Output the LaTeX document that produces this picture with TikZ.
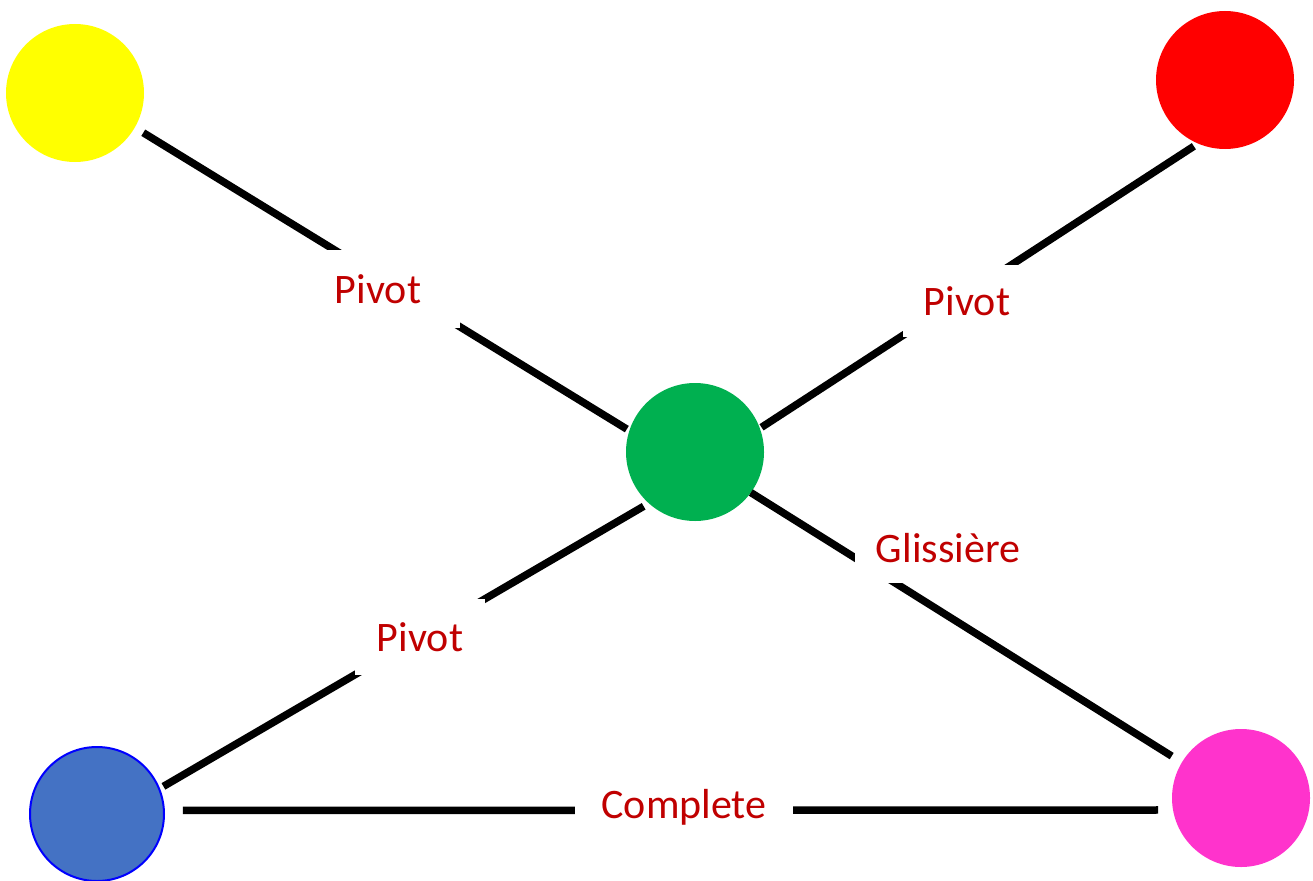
\documentclass[tikz,border=0pt]{standalone}
\usepackage{fontspec}
\setmainfont{Carlito}
\definecolor{jointred}{RGB}{192,0,0}
\definecolor{partyellow}{RGB}{255,255,0}
\definecolor{partred}{RGB}{255,0,0}
\definecolor{partgreen}{RGB}{0,176,80}
\definecolor{partblue}{RGB}{68,114,196}
\definecolor{partborder}{RGB}{0,0,255}
\definecolor{partpink}{RGB}{255,51,204}
\begin{document}
\begin{tikzpicture}[x=1pt,y=-1pt,
  part/.style={circle,inner sep=0pt,outer sep=0pt,minimum size=138pt},
  link/.style={line width=7.5pt,black},
  joint/.style={fill=white,inner sep=0pt,text=jointred,
    font=\fontsize{42}{50}\selectfont}]
\useasboundingbox (0,0) rectangle (1313,880);

% solids of the mechanism
\node[part,fill=partyellow] (Y) at (75,93) {};
\node[part,fill=partred] (R) at (1225,80) {};
\node[part,fill=partgreen] (G) at (695,452) {};
\node[part,fill=partblue,draw=partborder,line width=2pt,minimum size=134pt] (B) at (97,814) {};
\node[part,fill=partpink] (M) at (1241,798) {};

% links between solids
\draw[link,shorten <=10pt,shorten >=3pt] (Y.-30) -- (G.162);
\draw[link,shorten <=5pt,shorten >=2pt] (R.-113) -- (G.20);
\draw[link,shorten <=5pt,shorten >=6pt] (B.22) -- (G.-132);
\draw[link,shorten <=0pt,shorten >=12pt] (G.-36) -- (M.149);
\draw[link,shorten <=19pt,shorten >=15pt] (B.3) -- (M.190);

% joint names
\node[joint,minimum width=164pt,minimum height=78pt] (j1) at (378,289) {Pivot};
\node[joint,minimum width=128pt,minimum height=72pt] (j2) at (967,301) {Pivot};
\node[joint,minimum width=186pt,minimum height=70pt] (j3) at (948,548) {Glissière};
\node[joint,minimum width=130pt,minimum height=76pt] (j4) at (420,637) {Pivot};
\node[joint,minimum width=218pt,minimum height=70pt] (j5) at (684,807) {Complete};
\end{tikzpicture}
\end{document}
